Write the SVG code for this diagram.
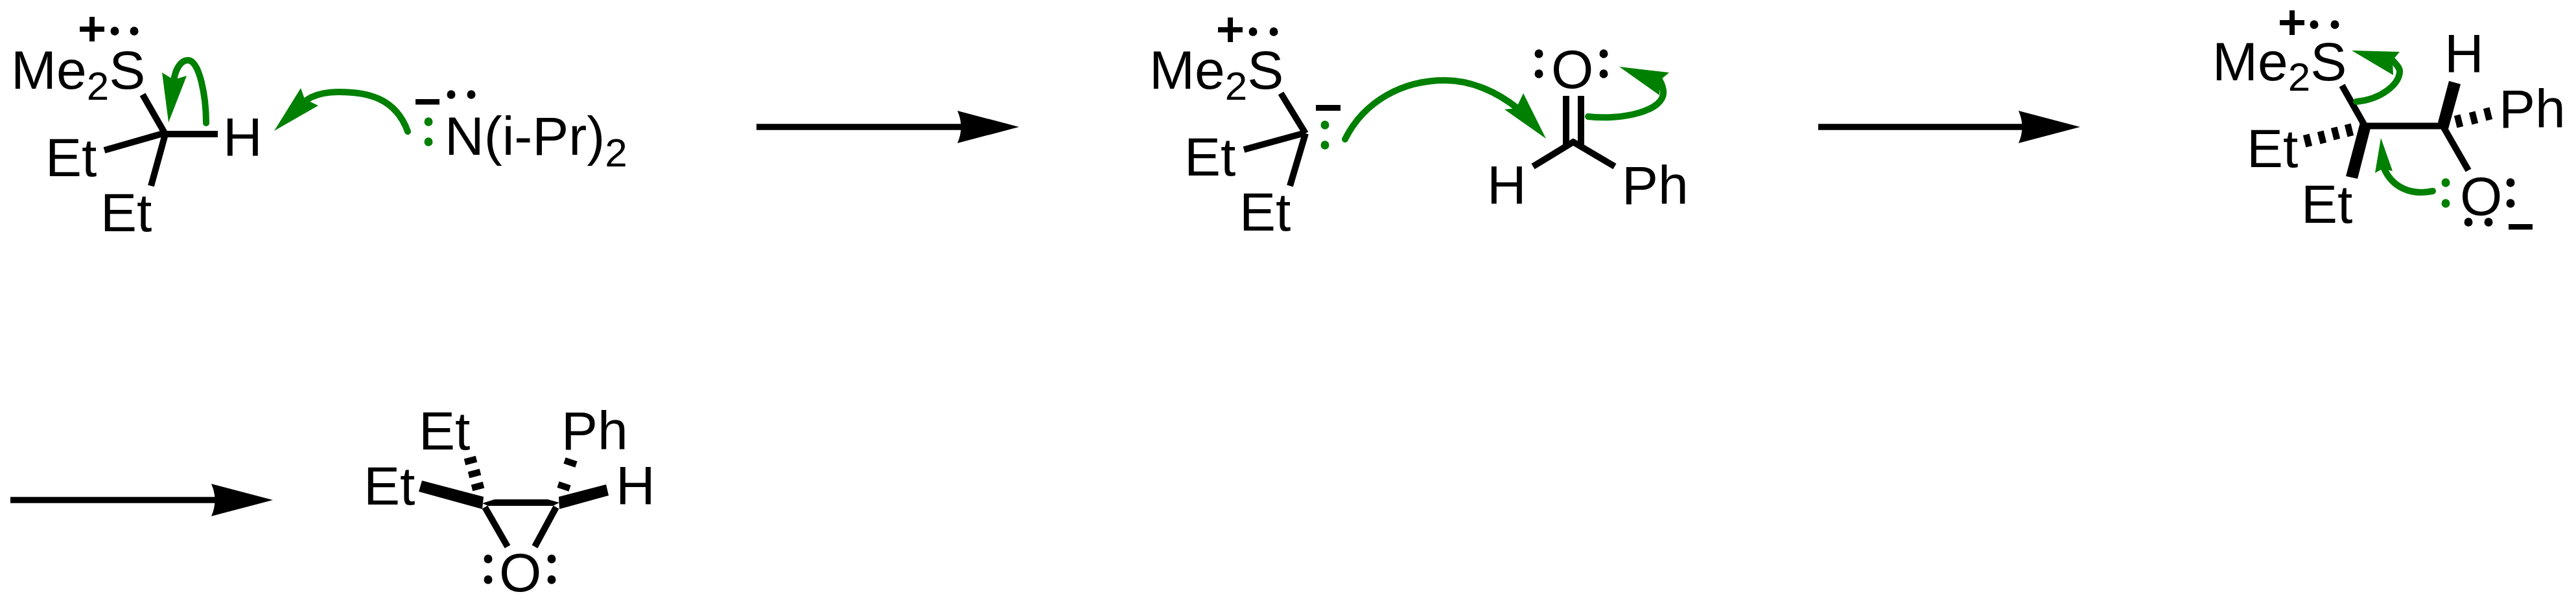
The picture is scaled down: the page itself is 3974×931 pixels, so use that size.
<svg xmlns="http://www.w3.org/2000/svg" width="3974" height="931" viewBox="0 0 3974 931">
<style>
text{font-family:"Liberation Sans",Arial,sans-serif;font-size:84px;fill:#000}
.sub{font-size:62px}
.b{stroke:#000;stroke-width:10;fill:none}
.h{stroke:#000;stroke-width:10;fill:none}
.f{fill:#000;stroke:none}
.ga{stroke:#008000;stroke-width:10;fill:none;stroke-linecap:round}
.gh{fill:#008000;stroke:none}
.rx{stroke:#000;stroke-width:9.5;fill:none}
.gd{fill:#008000}
.bd{fill:#000}
</style>
<defs>
<path id="head" d="M0,0L-95,-25Q-84,0 -95,25Z"/>
<ellipse id="dot" rx="6.5" ry="6.8"/>
<path id="plus" d="M-19,-4H-4V-19H4V-4H19V4H4V19H-4V4H-19Z"/>
</defs>
<rect width="3974" height="931" fill="#fff"/>
<g id="connectors">
<path class="rx" d="M1167,196H1489"/><use href="#head" x="1572" y="196"/>
<path class="rx" d="M2805,196H3127"/><use href="#head" x="3209" y="196"/>
<path class="rx" d="M16,772H338"/><use href="#head" x="421" y="772"/>
</g>
<g id="sulfonium-ylide-precursor">
<text x="17" y="137">Me<tspan class="sub" dy="17">2</tspan><tspan dy="-17">S</tspan></text>
<use href="#plus" x="142" y="45"/>
<use href="#dot" x="177" y="48"/><use href="#dot" x="207" y="48"/>
<path class="b" d="M220,146L255,207M255,205L161,232M255,207L233,287M250,207H336"/>
<text x="70" y="272">Et</text>
<text x="155" y="357">Et</text>
<text x="344" y="241">H</text>
</g>
<g id="lda">
<rect x="641" y="153" width="37" height="8.500"/>
<use href="#dot" x="696" y="146"/><use href="#dot" x="727" y="146"/>
<use class="gd" href="#dot" x="661" y="188"/><use class="gd" href="#dot" x="661" y="219"/>
<text x="686" y="239">N(i-Pr)<tspan class="sub" dy="18">2</tspan></text>
</g>
<g id="ylide">
<text x="1773" y="137">Me<tspan class="sub" dy="17">2</tspan><tspan dy="-17">S</tspan></text>
<use href="#plus" x="1898" y="46"/>
<use href="#dot" x="1933" y="49"/><use href="#dot" x="1965" y="49"/>
<path class="b" d="M1976,144L2014,206M2014,205L1919,231M2014,206L1990,287"/>
<text x="1827" y="271">Et</text>
<text x="1912" y="356">Et</text>
<rect x="2030" y="162" width="38" height="9"/>
<use class="gd" href="#dot" x="2044" y="193"/><use class="gd" href="#dot" x="2044" y="224"/>
</g>
<g id="benzaldehyde">
<text x="2393" y="136">O</text>
<use href="#dot" x="2374" y="83"/><use href="#dot" x="2374" y="114"/>
<use href="#dot" x="2474" y="83"/><use href="#dot" x="2474" y="114"/>
<path class="b" d="M2416,148V226M2439,148V226M2365,257L2429,218M2491,257L2425,218"/>
<text x="2294" y="315">H</text>
<text x="2502" y="315">Ph</text>
</g>
<g id="betaine">
<text x="3413" y="124">Me<tspan class="sub" dy="16">2</tspan><tspan dy="-16">S</tspan></text>
<use href="#plus" x="3536" y="35"/>
<use href="#dot" x="3570" y="38"/><use href="#dot" x="3602" y="38"/>
<path class="b" d="M3613,132L3647,192M3646,194.500H3772M3770,197L3808,263"/>
<path class="f" d="M3641,189L3657,198L3637,276L3619,272ZM3761,189L3777,199L3796,130L3778,125Z"/>
<path class="h" d="M3621.700,191.800L3626.300,210.200M3600.700,196.800L3605.300,215.200M3579.700,202.800L3584.300,221.200M3557.700,207.800L3562.300,226.200M3790.700,177.800L3795.300,196.200M3813.700,172.800L3818.300,191.200M3835.700,166.800L3840.300,185.200"/>
<text x="3466" y="258">Et</text>
<text x="3550" y="344">Et</text>
<text x="3771" y="112">H</text>
<text x="3855" y="197">Ph</text>
<text x="3795" y="332">O</text>
<use class="gd" href="#dot" x="3773" y="282"/><use class="gd" href="#dot" x="3773" y="314"/>
<use href="#dot" x="3873" y="282"/><use href="#dot" x="3873" y="314"/>
<use href="#dot" x="3808" y="343"/><use href="#dot" x="3839" y="343"/>
<rect x="3870" y="346" width="37" height="8.500"/>
</g>
<g id="epoxide">
<text x="646" y="694">Et</text>
<text x="866" y="694">Ph</text>
<text x="561" y="779">Et</text>
<text x="950" y="779">H</text>
<path class="f" d="M651,742L646,759L744,786L746,767ZM935,748L939,765L863,786L862,767ZM744,777L763,771H845L863,776L853,781H753Z"/>
<path class="b" d="M748,783L783,844M858,783L825,844"/>
<path class="h" d="M717,713.300L735,708.700M723,733.300L741,728.700M728,753.300L746,748.700M871,711L889,717M861,748L879,754"/>
<text x="770" y="913">O</text>
<use href="#dot" x="753" y="863"/><use href="#dot" x="753" y="895"/>
<use href="#dot" x="851" y="863"/><use href="#dot" x="851" y="895"/>
</g>
<g id="electron-arrows">
<path class="ga" d="M318,190C318,150 308,93 290,93C277,93 270,110 268,125"/>
<path class="gh" d="M260,189L250,112L268,123L288,117Z"/>
<path class="ga" d="M629,203C610,150 565,142 523,142C500,142 485,146 472,155"/>
<path class="gh" d="M423,202L464,136L470,153L491,163Z"/>
<path class="ga" d="M2075,215C2105,155 2165,124 2229,124C2270,124 2310,142 2342,168"/>
<path class="gh" d="M2385,214L2350,144L2339,167L2321,169Z"/>
<path class="ga" d="M2450,180C2500,186 2570,172 2566,140C2565,132 2563,128 2560,123"/>
<path class="gh" d="M2498,103L2575,112L2562,123L2560,147Z"/>
<path class="ga" d="M3635,157C3675,153 3700,130 3702,112C3703,105 3697,100 3691,93"/>
<path class="gh" d="M3628,78L3702,80L3691,93L3692,116Z"/>
<path class="ga" d="M3753,295C3720,302 3690,290 3677,258"/>
<path class="gh" d="M3673,213L3664,267L3675,261L3691,264Z"/>
</g>
</svg>
